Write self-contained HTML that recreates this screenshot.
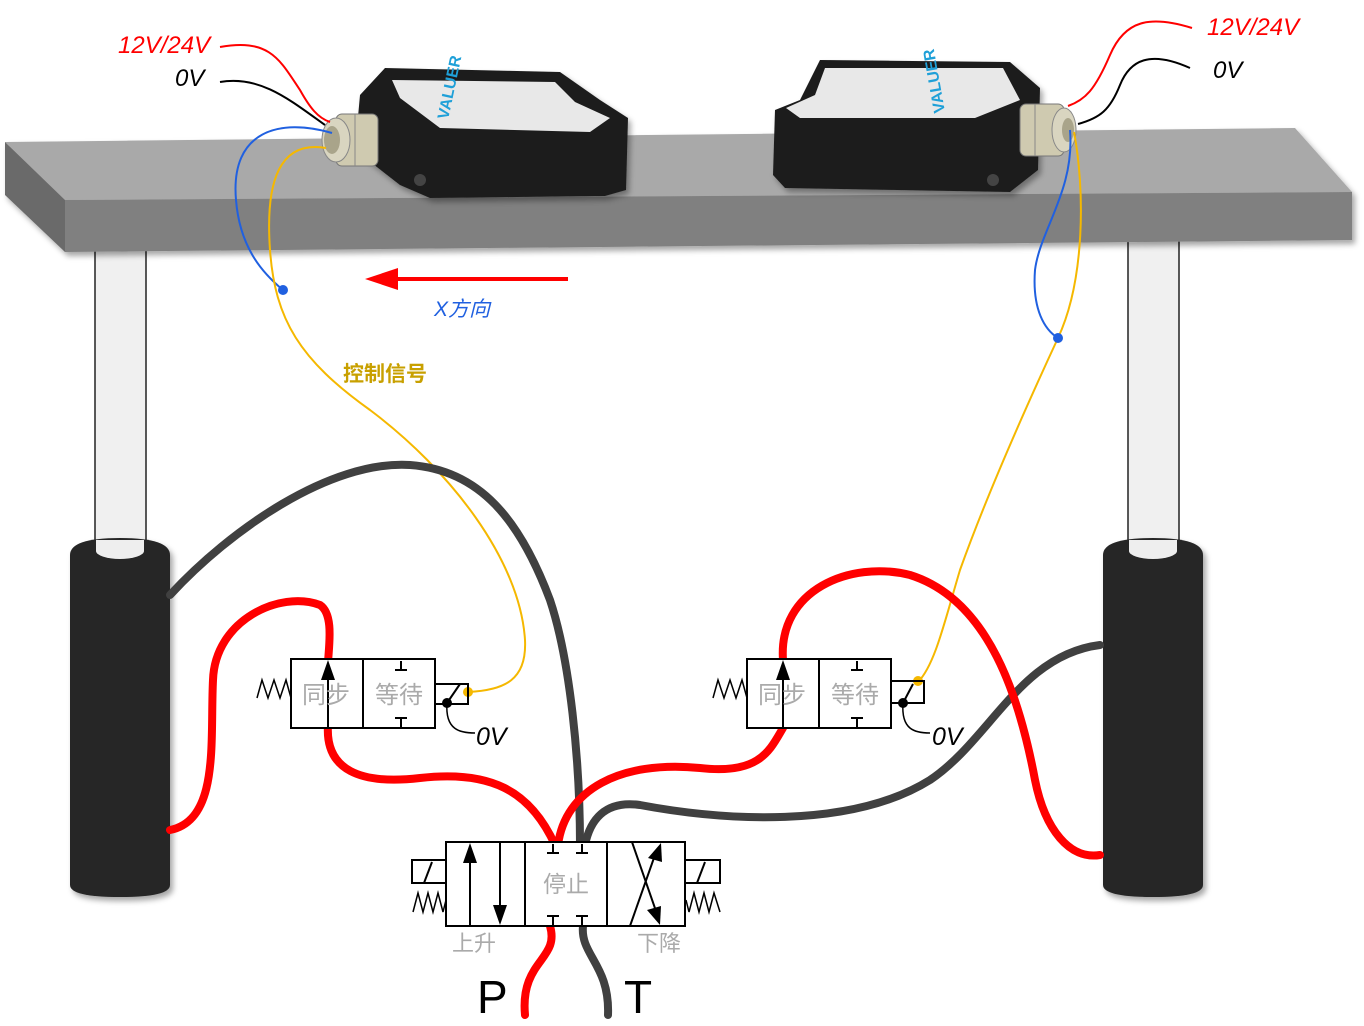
<!DOCTYPE html>
<html><head><meta charset="utf-8"><style>
html,body{margin:0;padding:0;background:#fff;}
svg{display:block;}
text{font-family:"Liberation Sans","Noto Sans CJK SC",sans-serif;}
</style></head><body>
<svg width="1364" height="1026" viewBox="0 0 1364 1026" xmlns="http://www.w3.org/2000/svg">
<defs>
<filter id="sh" x="-10%" y="-10%" width="130%" height="130%"><feDropShadow dx="3" dy="4" stdDeviation="3" flood-opacity="0.35"/></filter>
</defs>
<!-- legs -->
<rect x="95" y="245" width="51" height="315" fill="#f0f0f0" stroke="#222" stroke-width="1.5"/>
<rect x="1128" y="235" width="51" height="325" fill="#f0f0f0" stroke="#222" stroke-width="1.5"/>
<!-- table -->
<g filter="url(#sh)">
<polygon points="5,142 1295,128 1352,192 65,200" fill="#a9a9a9"/>
<polygon points="65,200 1352,192 1352,240 65,252" fill="#808080"/>
<polygon points="5,142 65,200 65,252 5,195" fill="#6b6b6b"/>
</g>
<!-- cylinders -->
<g filter="url(#sh)">
<path d="M70,555 Q70,538 120,538 Q170,538 170,555 L170,885 Q170,897 120,897 Q70,897 70,885 Z" fill="#262626"/>
<path d="M1103,555 Q1103,538 1153,538 Q1203,538 1203,555 L1203,885 Q1203,897 1153,897 Q1103,897 1103,885 Z" fill="#262626"/>
</g>
<ellipse cx="120" cy="551" rx="24" ry="8" fill="#eee"/>
<rect x="96" y="540" width="48" height="11" fill="#eee"/>
<ellipse cx="1153" cy="551" rx="24" ry="8" fill="#eee"/>
<rect x="1129" y="540" width="48" height="11" fill="#eee"/>
<!-- left sensor -->
<g filter="url(#sh)">
<polygon points="385,68 560,72 600,100 628,118 626,190 605,196 430,198 400,185 355,150 360,95" fill="#1d1d1d"/>
<polygon points="392,80 555,82 575,102 610,118 590,132 440,128 400,98" fill="#e8e8e8"/>
</g>
<text x="448" y="120" font-size="16" font-weight="bold" fill="#1fa0d8" transform="rotate(-78 448 120)">VALUER</text>
<circle cx="420" cy="180" r="6" fill="#444"/>
<g>
<rect x="336" y="114" width="42" height="52" rx="6" fill="#cfcab0" stroke="#777"/>
<line x1="355" y1="114" x2="355" y2="166" stroke="#888"/>
<ellipse cx="336" cy="140" rx="14" ry="22" fill="#d9d5c0" stroke="#888"/>
<ellipse cx="332" cy="140" rx="8" ry="14" fill="#a9a48a"/>
</g>
<!-- right sensor -->
<g filter="url(#sh)">
<polygon points="820,60 1010,62 1040,88 1038,170 1010,192 785,188 773,175 775,110 800,100 810,80" fill="#1d1d1d"/>
<polygon points="825,68 1003,68 1020,100 975,118 800,118 786,108 815,95" fill="#e8e8e8"/>
</g>
<text x="945" y="112" font-size="16" font-weight="bold" fill="#1fa0d8" transform="rotate(-100 945 112)">VALUER</text>
<circle cx="993" cy="180" r="6" fill="#444"/>
<g>
<rect x="1020" y="104" width="44" height="52" rx="6" fill="#cfcab0" stroke="#777"/>
<line x1="1035" y1="104" x2="1035" y2="156" stroke="#888"/>
<ellipse cx="1064" cy="130" rx="12" ry="22" fill="#d9d5c0" stroke="#888"/>
<ellipse cx="1068" cy="130" rx="6" ry="12" fill="#a9a48a"/>
</g>
<!-- sensor wires left -->
<path d="M220,47 C270,38 280,60 300,90 C310,108 318,118 330,122" fill="none" stroke="#f00" stroke-width="2"/>
<path d="M220,82 C260,75 290,100 325,125" fill="none" stroke="#000" stroke-width="2"/>
<path d="M332,133 C280,118 230,130 236,200 C240,250 265,275 283,290" fill="none" stroke="#2060e0" stroke-width="2"/>
<path d="M326,148 C280,140 265,180 270,250 C275,320 300,360 370,410 C450,470 520,560 525,640 C527,680 505,690 468,692" fill="none" stroke="#f5b800" stroke-width="2"/>
<circle cx="283" cy="290" r="5" fill="#2060e0"/>
<circle cx="468" cy="692" r="5" fill="#f5b800"/>
<!-- sensor wires right -->
<path d="M1192,28 C1150,15 1125,20 1110,55 C1095,90 1085,100 1068,106" fill="none" stroke="#f00" stroke-width="2"/>
<path d="M1190,68 C1150,50 1130,60 1120,85 C1110,110 1100,118 1078,124" fill="none" stroke="#000" stroke-width="2"/>
<path d="M1070,130 C1075,190 1040,230 1035,270 C1032,310 1045,330 1058,338" fill="none" stroke="#2060e0" stroke-width="2"/>
<path d="M1074,132 C1085,190 1085,280 1058,338 C1020,420 985,500 960,570 C945,620 935,665 918,682" fill="none" stroke="#f5b800" stroke-width="2"/>
<circle cx="1058" cy="338" r="5" fill="#2060e0"/>
<circle cx="918" cy="681" r="5" fill="#f5b800"/>
<!-- labels top -->
<text x="118" y="53" font-size="24" font-style="italic" fill="#f00">12V/24V</text>
<text x="175" y="86" font-size="24" font-style="italic" fill="#000">0V</text>
<text x="1207" y="35" font-size="24" font-style="italic" fill="#f00">12V/24V</text>
<text x="1213" y="78" font-size="24" font-style="italic" fill="#000">0V</text>
<!-- X direction arrow -->
<line x1="568" y1="279" x2="390" y2="279" stroke="#f00" stroke-width="4"/>
<polygon points="365,279 398,268 398,290" fill="#f00"/>
<text x="434" y="316" font-size="21" font-style="italic" fill="#2060e0">X方向</text>
<text x="343" y="381" font-size="21" font-weight="bold" fill="#c8a000">控制信号</text>
<!-- hoses -->
<g fill="none" stroke-linecap="round">
<path d="M170,595 C230,530 330,460 410,465 C480,470 520,520 550,600 C570,660 580,760 580,845" stroke="#404040" stroke-width="8"/>
<path d="M1100,645 C1020,655 990,740 930,780 C850,830 720,820 640,805 C605,800 590,820 585,845" stroke="#404040" stroke-width="8"/>
<path d="M170,830 C220,820 210,740 213,680 C215,620 280,590 320,605 C335,615 328,650 328,665" stroke="#f00" stroke-width="8"/>
<path d="M328,725 C325,770 360,785 420,778 C490,770 530,790 555,845" stroke="#f00" stroke-width="8"/>
<path d="M558,845 C565,790 620,760 700,768 C760,775 770,750 783,728" stroke="#f00" stroke-width="8"/>
<path d="M783,660 C778,590 850,560 910,575 C990,600 1020,700 1035,780 C1045,830 1070,860 1100,855" stroke="#f00" stroke-width="8"/>
<path d="M550,926 C560,960 520,960 525,1015" stroke="#f00" stroke-width="8"/>
<path d="M583,926 C580,955 610,965 608,1015" stroke="#404040" stroke-width="8"/>
</g>
<!-- small valve left -->
<g stroke="#000" stroke-width="2" fill="#fff">
<rect x="291" y="659" width="144" height="69"/>
<line x1="363" y1="659" x2="363" y2="728"/>
<polyline points="435,684 468,684 468,704 435,704" fill="none"/>
<polyline points="257,698 262,680 268,698 274,680 280,698 286,680 291,698" fill="none" stroke-width="1.5"/>
<line x1="328" y1="670" x2="328" y2="728"/>
<line x1="401" y1="661" x2="401" y2="670"/><line x1="395" y1="670" x2="407" y2="670"/>
<line x1="401" y1="718" x2="401" y2="727"/><line x1="395" y1="718" x2="407" y2="718"/>
<line x1="447" y1="703" x2="460" y2="684"/>
<path d="M447,703 C445,730 460,733 475,733" fill="none" stroke-width="1.5"/>
</g>
<polygon points="328,660 321,680 335,680" fill="#000"/>
<circle cx="447" cy="703" r="5" fill="#000"/>
<text x="302" y="703" font-size="24" fill="#aaa">同步</text>
<text x="375" y="703" font-size="24" fill="#aaa">等待</text>
<text x="476" y="745" font-size="25" font-style="italic" fill="#000">0V</text>
<!-- small valve right -->
<g stroke="#000" stroke-width="2" fill="#fff">
<rect x="747" y="659" width="144" height="69"/>
<line x1="819" y1="659" x2="819" y2="728"/>
<polyline points="891,681 924,681 924,703 891,703" fill="none"/>
<polyline points="713,698 718,680 724,698 730,680 736,698 742,680 747,698" fill="none" stroke-width="1.5"/>
<line x1="783" y1="670" x2="783" y2="728"/>
<line x1="857" y1="661" x2="857" y2="670"/><line x1="851" y1="670" x2="863" y2="670"/>
<line x1="857" y1="718" x2="857" y2="727"/><line x1="851" y1="718" x2="863" y2="718"/>
<line x1="903" y1="703" x2="913" y2="684"/>
<path d="M903,703 C901,730 915,733 930,733" fill="none" stroke-width="1.5"/>
</g>
<polygon points="783,660 776,680 790,680" fill="#000"/>
<circle cx="903" cy="703" r="5" fill="#000"/>
<text x="758" y="703" font-size="24" fill="#aaa">同步</text>
<text x="831" y="703" font-size="24" fill="#aaa">等待</text>
<text x="932" y="745" font-size="25" font-style="italic" fill="#000">0V</text>
<!-- main valve -->
<g stroke="#000" stroke-width="2" fill="#fff">
<rect x="446" y="842" width="239" height="84"/>
<line x1="525" y1="842" x2="525" y2="926"/>
<line x1="607" y1="842" x2="607" y2="926"/>
<rect x="412" y="860" width="34" height="23"/>
<line x1="424" y1="883" x2="432" y2="862"/>
<rect x="685" y="860" width="35" height="23"/>
<line x1="697" y1="883" x2="705" y2="862"/>
<polyline points="413,912 418,893 423,912 428,893 433,912 438,893 443,912 446,900" fill="none" stroke-width="1.5"/>
<polyline points="686,900 689,912 694,893 699,912 704,893 709,912 714,893 720,912" fill="none" stroke-width="1.5"/>
<line x1="470" y1="855" x2="470" y2="926"/>
<line x1="500" y1="842" x2="500" y2="912"/>
<line x1="553" y1="844" x2="553" y2="853"/><line x1="547" y1="853" x2="559" y2="853"/>
<line x1="582" y1="844" x2="582" y2="853"/><line x1="576" y1="853" x2="588" y2="853"/>
<line x1="553" y1="916" x2="553" y2="925"/><line x1="547" y1="916" x2="559" y2="916"/>
<line x1="582" y1="916" x2="582" y2="925"/><line x1="576" y1="916" x2="588" y2="916"/>
<line x1="632" y1="842" x2="657" y2="914"/>
<line x1="630" y1="926" x2="655" y2="855"/>
</g>
<polygon points="470,843 463,863 477,863" fill="#000"/>
<polygon points="500,925 493,905 507,905" fill="#000"/>
<polygon points="661,843 648,858 662,862" fill="#000"/>
<polygon points="660,925 647,910 661,906" fill="#000"/>
<text x="543" y="892" font-size="23" fill="#aaa">停止</text>
<text x="452" y="951" font-size="22" fill="#aaa">上升</text>
<text x="637" y="951" font-size="22" fill="#aaa">下降</text>
<text x="477" y="1013" font-size="46" fill="#000">P</text>
<text x="624" y="1013" font-size="46" fill="#000">T</text>
</svg>
</body></html>
